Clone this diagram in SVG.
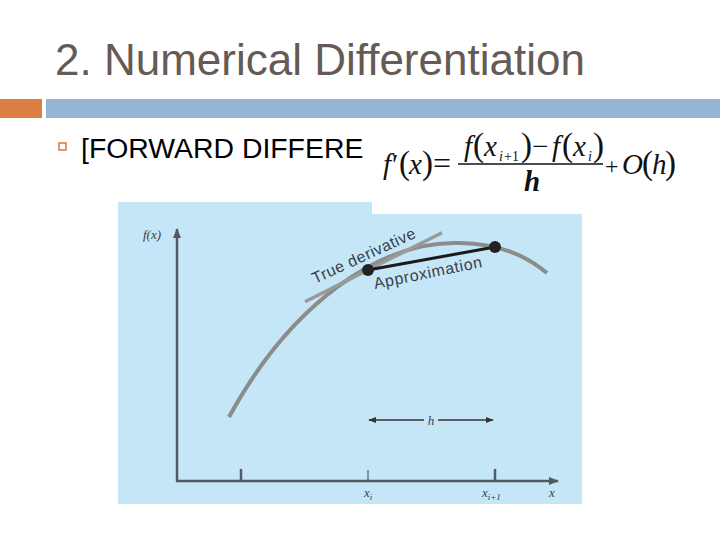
<svg xmlns="http://www.w3.org/2000/svg" width="720" height="540" viewBox="0 0 720 540">
<defs>
<style>
.title{font-family:"Liberation Sans",Arial,sans-serif;font-size:44px;fill:#665a54}
.body{font-family:"Liberation Sans",Arial,sans-serif;font-size:28.4px;fill:#000}
.eq{font-family:"Liberation Serif","Times New Roman",serif;font-size:29px;fill:#111}
.it{font-style:italic}
.par{font-size:33px}
.sub{font-size:14px}
.lbl{font-family:"Liberation Sans",Arial,sans-serif;font-size:16px;fill:#3a4048}
.ax{font-family:"Liberation Serif","Times New Roman",serif;font-style:italic;font-size:13px;fill:#3a4048}
.axis{stroke:#515a62;stroke-width:2.5;fill:none}
</style>
<marker id="ah" viewBox="0 0 10 10" refX="9" refY="5" markerWidth="5" markerHeight="5" orient="auto-start-reverse">
<path d="M0,1 L10,5 L0,9 z" fill="#333"/>
</marker>
<marker id="axh" viewBox="0 0 10 10" refX="9" refY="5" markerWidth="4" markerHeight="4" orient="auto">
<path d="M0,1 L10,5 L0,9 z" fill="#515a62"/>
</marker>
</defs>
<rect width="720" height="540" fill="#fff"/>
<g id="title">
<text class="title" x="55" y="75">2. Numerical Differentiation</text>
</g>
<g id="bars">
<rect x="0" y="99" width="42" height="19" fill="#dd7f45"/>
<rect x="46" y="99" width="674" height="19" fill="#94b6d2"/>
</g>
<g id="bullet">
<rect x="59" y="143" width="7" height="7" fill="none" stroke="#dd7f45" stroke-width="1.6"/>
<text class="body" x="81" y="158">[FORWARD DIFFERE</text>
</g>
<g id="figure">
<path d="M118,202 H372 V214 H582 V504 H118 Z" fill="#c5e6f7"/>
<g id="axes">
<line class="axis" x1="177" y1="481" x2="177" y2="229" marker-end="url(#axh)"/>
<line class="axis" x1="176" y1="481" x2="558" y2="481" marker-end="url(#axh)"/>
<line class="axis" x1="241" y1="469" x2="241" y2="481"/>
<line x1="368" y1="470" x2="368" y2="481" stroke="#515a62" stroke-width="1.2"/>
<line class="axis" x1="495" y1="469" x2="495" y2="481"/>
</g>
<path id="curve" d="M229,417 C290,305 380,240 460,243 C500,244 525,255 547,273" fill="none" stroke="#8c8c8c" stroke-width="4"/>
<line id="tangent" x1="305" y1="301.7" x2="442" y2="232.7" stroke="#9a9a9a" stroke-width="3.5"/>
<line id="approx" x1="368" y1="270" x2="495" y2="247" stroke="#1a1a1a" stroke-width="3"/>
<circle cx="368" cy="270" r="6" fill="#222"/>
<circle cx="495" cy="247" r="6" fill="#222"/>
<text class="lbl" transform="translate(315,284) rotate(-24.7)" textLength="112" lengthAdjust="spacing">True derivative</text>
<text class="lbl" transform="translate(375,289) rotate(-11.5)" textLength="110" lengthAdjust="spacing">Approximation</text>
<g id="h-arrow">
<line x1="369" y1="420" x2="424" y2="420" stroke="#333" stroke-width="1.6" marker-start="url(#ah)"/>
<line x1="438" y1="420" x2="493" y2="420" stroke="#333" stroke-width="1.6" marker-end="url(#ah)"/>
<text class="ax" x="431" y="425" text-anchor="middle" font-size="15">h</text>
</g>
<text class="ax" x="143" y="239">f(x)</text>
<text class="ax" x="364" y="497">x<tspan font-size="9" dy="3">i</tspan></text>
<text class="ax" x="482" y="497">x<tspan font-size="9" dy="3">i+1</tspan></text>
<text class="ax" x="549" y="497">x</text>
</g>
<g id="equation">
<text class="eq" y="174"><tspan class="it" x="383">f</tspan><tspan x="392">′</tspan><tspan class="par" x="399">(</tspan><tspan class="it" x="409">x</tspan><tspan class="par" x="422">)</tspan><tspan x="433" font-size="32">=</tspan></text>
<text class="eq" y="156"><tspan class="it" x="464">f</tspan><tspan class="par" x="473">(</tspan><tspan class="it" x="484">x</tspan><tspan class="sub it" x="499" y="161">i</tspan><tspan class="sub" x="504" y="161">+1</tspan><tspan class="par" x="521" y="156">)</tspan><tspan x="532">−</tspan><tspan class="it" x="552">f</tspan><tspan class="par" x="562">(</tspan><tspan class="it" x="573">x</tspan><tspan class="sub it" x="588" y="161">i</tspan><tspan class="par" x="593" y="156">)</tspan></text>
<line x1="458" y1="164" x2="603" y2="164" stroke="#111" stroke-width="1.3"/>
<text class="eq it" x="524" y="191" font-weight="bold">h</text>
<text class="eq" y="174"><tspan x="605" font-size="24">+</tspan><tspan class="it" x="622">O</tspan><tspan class="par" x="642">(</tspan><tspan class="it" x="652">h</tspan><tspan class="par" x="665">)</tspan></text>
</g>
</svg>
